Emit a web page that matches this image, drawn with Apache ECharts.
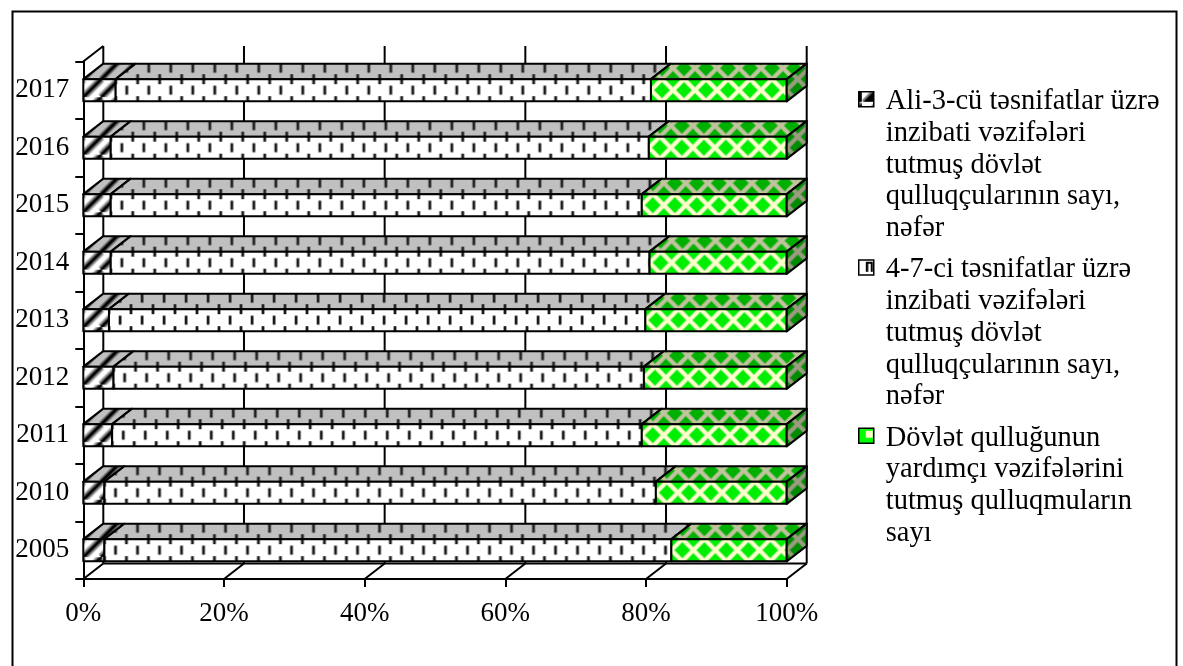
<!DOCTYPE html>
<html><head><meta charset="utf-8">
<script src="https://cdn.jsdelivr.net/npm/echarts@6/dist/echarts.min.js"></script>
<style>html,body{margin:0;padding:0;background:#fff}#c{width:1183px;height:666px}</style>
</head><body><div id="c"></div>
<script>
// ---- data ----
const categories = ['2005','2010','2011','2012','2013','2014','2015','2016','2017'];
const seriesNames = [
  'Ali-3-cü təsnifatlar üzrə\ninzibati vəzifələri\ntutmuş dövlət\nqulluqçularının sayı,\nnəfər',
  '4-7-ci təsnifatlar üzrə\ninzibati vəzifələri\ntutmuş dövlət\nqulluqçularının sayı,\nnəfər',
  'Dövlət qulluğunun\nyardımçı vəzifələrini\ntutmuş qulluqmuların\nsayı'
];
const topClassShare = [3.0, 3.0, 4.1, 4.3, 3.65, 3.9, 3.9, 3.9, 4.6];
const midClassShare = [80.6, 78.4, 75.3, 75.4, 76.25, 76.6, 75.5, 76.5, 76.1];
const auxStaffShare = [16.4, 18.6, 20.6, 20.3, 20.1, 19.5, 20.6, 19.6, 19.3];
const xTicks = [0, 20, 40, 60, 80, 100];

// ---- style constants ----
const FONT = 'Liberation Serif';
const FS_AXIS = 27, FS_LEG = 28.5;
const DX = 20, DY = -15.5;       // 3D depth offset
const BAR_RATIO = 0.386;

function tile(w, h, draw) {
  const c = document.createElement('canvas');
  c.width = w; c.height = h;
  const g = c.getContext('2d');
  draw(g, w, h);
  return c;
}
function stripes(bg, soft) {
  return tile(18, 18, (g, w, h) => {
    g.fillStyle = bg; g.fillRect(0, 0, w, h);
    const layers = soft ? [['#aaa', 8], ['#555', 5], ['#000', 2.5]] : [['#666', 6], ['#000', 3]];
    layers.forEach(([col, lw]) => {
      g.strokeStyle = col; g.lineWidth = lw;
      for (let k = -w; k <= w; k += w) {
        g.beginPath(); g.moveTo(k, h); g.lineTo(k + w, 0); g.stroke();
      }
    });
  });
}
function dashes(bg, fg) {
  return tile(22, 22, (g, w, h) => {
    g.fillStyle = bg; g.fillRect(0, 0, w, h);
    g.fillStyle = fg;
    g.fillRect(9.7, 6.5, 2.8, 9);
    g.fillRect(-1.4, 0, 2.8, 5); g.fillRect(20.6, 0, 2.8, 5);
    g.fillRect(-1.4, 17, 2.8, 5); g.fillRect(20.6, 17, 2.8, 5);
  });
}
function diamonds(bg, fg, soft) {
  return tile(22, 22, (g, w, h) => {
    g.fillStyle = bg; g.fillRect(0, 0, w, h);
    const d = (cx, cy, r) => { g.beginPath(); g.moveTo(cx, cy - r); g.lineTo(cx + r, cy); g.lineTo(cx, cy + r); g.lineTo(cx - r, cy); g.closePath(); g.fill(); };
    const pts = [[0,0],[22,0],[0,22],[22,22],[11,11]];
    g.fillStyle = soft; pts.forEach(([x, y]) => d(x, y, 8.4));
    g.fillStyle = fg; pts.forEach(([x, y]) => d(x, y, 7.4));
  });
}
const tiles = [
  { front: stripes('#fff', true), top: stripes('#c0c0c0', false) },
  { front: dashes('#fff', '#1a1a1a'), top: dashes('#c0c0c0', '#222') },
  { front: diamonds('#ffffcc', '#00ee00', '#80f080'), top: diamonds('#c3c3a0', '#00b000', '#60b850'), side: diamonds('#9c9c7e', '#008c00', '#4a944a') }
];
const pat = (img, x, y) => ({ image: img, repeat: 'repeat', x: x, y: y });

const shares = [topClassShare, midClassShare, auxStaffShare];
function seriesData(si) {
  return categories.map((c, i) => {
    let start = 0;
    for (let k = 0; k < si; k++) start += shares[k][i];
    return [start, start + shares[si][i], i];
  });
}

function barRender(si) {
  const last = si === shares.length - 1;
  return function (params, api) {
    const s = api.value(0), e = api.value(1), c = api.value(2);
    const p0 = api.coord([s, c]), p1 = api.coord([e, c]);
    const h = api.size([0, 1])[1] * BAR_RATIO;
    const x0 = p0[0], x1 = p1[0], yT = p0[1] - h / 2, yB = p0[1] + h / 2;
    const edge = { stroke: '#000', lineWidth: 2, lineJoin: 'round' };
    const t = tiles[si];
    const children = [
      { type: 'polygon', shape: { points: [[x0, yT], [x1, yT], [x1 + DX, yT + DY], [x0 + DX, yT + DY]] },
        style: Object.assign({ fill: pat(t.top, x0, yT) }, edge) },
      { type: 'rect', shape: { x: x0, y: yT, width: x1 - x0, height: h },
        style: Object.assign({ fill: pat(t.front, x0, yT) }, edge) }
    ];
    if (last) {
      children.push({ type: 'polygon', shape: { points: [[x1, yT], [x1 + DX, yT + DY], [x1 + DX, yB + DY], [x1, yB]] },
        style: Object.assign({ fill: pat(t.side, x1, yT) }, edge) });
    }
    return { type: 'group', children: children };
  };
}

function wallRender(params, api) {
  const cs = params.coordSys;
  const v = api.value(0);
  const x = api.coord([v, 0])[0];
  const top = cs.y, bottom = cs.y + cs.height;
  const ls = { stroke: '#000', lineWidth: 2 };
  const children = [
    { type: 'line', shape: { x1: x + DX, y1: top + DY, x2: x + DX, y2: bottom + DY }, style: ls },
    { type: 'line', shape: { x1: x, y1: bottom, x2: x + DX, y2: bottom + DY }, style: ls }
  ];
  if (params.dataIndex === 0) {
    children.push({ type: 'line', shape: { x1: x, y1: top, x2: x + DX, y2: top + DY }, style: ls });
    children.push({ type: 'line', shape: { x1: cs.x + DX, y1: bottom + DY, x2: cs.x + cs.width + DX, y2: bottom + DY }, style: ls });
  }
  return { type: 'group', children: children };
}

// legend icons
const LEG_LEFT = 858, LEG_TOP = 85, LH = 31.75, ITEM_H = LH * 5, LEG_GAP = 8;
const iconCanvases = [
  tile(15, 15, (g) => { g.fillStyle = '#fff'; g.fillRect(0,0,15,15); g.fillStyle = '#000'; g.beginPath(); g.moveTo(15,1); g.lineTo(15,15); g.lineTo(1,15); g.closePath(); g.fill(); g.strokeStyle='#777'; g.lineWidth=2; g.beginPath(); g.moveTo(1,14); g.lineTo(14,1); g.stroke(); }),
  tile(15, 15, (g) => { g.fillStyle = '#fff'; g.fillRect(0,0,15,15); g.fillStyle = '#000'; g.fillRect(4,5,2.5,10); g.fillRect(4,5,7,2); g.fillRect(9,5,2,10); }),
  tile(15, 15, (g) => { g.fillStyle = '#00ff00'; g.fillRect(0,0,15,15); g.fillStyle = '#ffffcc'; g.fillRect(4,4,7,7); })
];
const iconPath = 'path://M0,6L15,6L15,21L0,21Z M0,0 M15,' + ITEM_H;

const chart = echarts.init(document.getElementById('c'), null, { renderer: 'canvas' });
chart.setOption({
  animation: false,
  backgroundColor: '#fff',
  textStyle: { fontFamily: FONT },
  grid: { left: 83.3, right: 396.3, top: 61.5, bottom: 87, containLabel: false },
  xAxis: {
    type: 'value', min: 0, max: 100, interval: 20,
    axisLine: { show: true, lineStyle: { color: '#000', width: 2 } },
    axisTick: { show: true, length: 8, lineStyle: { color: '#000', width: 2 } },
    splitLine: { show: false },
    axisLabel: { formatter: '{value}%', color: '#000', fontFamily: FONT, fontSize: FS_AXIS, margin: 21 }
  },
  yAxis: {
    type: 'category', data: categories,
    axisLine: { show: true, lineStyle: { color: '#000', width: 2 } },
    axisTick: { show: true, length: 8, lineStyle: { color: '#000', width: 2 } },
    splitLine: { show: false },
    axisLabel: { color: '#000', fontFamily: FONT, fontSize: FS_AXIS, margin: 14 }
  },
  legend: {
    orient: 'vertical', left: LEG_LEFT, top: LEG_TOP, padding: 0,
    itemWidth: 15, itemHeight: ITEM_H, itemGap: LEG_GAP, selectedMode: false,
    textStyle: { fontFamily: FONT, fontSize: FS_LEG, color: '#000', lineHeight: LH, padding: [0, 0, 0, 7] },
    data: seriesNames.map((n, i) => ({
      name: n, icon: iconPath,
      itemStyle: { color: pat(iconCanvases[i], LEG_LEFT, LEG_TOP + 6 + i * (ITEM_H + LEG_GAP)), borderColor: '#000', borderWidth: 1.5 }
    })),
    formatter: (n) => (n.split('\n').length < 5 ? n + '\n ' : n)
  },
  graphic: [{
    type: 'rect', left: 10, top: 9, silent: true, z: -1,
    shape: { width: 1164, height: 700 },
    style: { fill: 'none', stroke: '#000', lineWidth: 2 }
  }],
  series: [
    { type: 'custom', name: 'walls', silent: true, z: 1, renderItem: wallRender,
      data: xTicks.map(v => [v]), encode: { x: 0 } },
  ].concat(seriesNames.map((n, si) => ({
    type: 'custom', name: n, silent: true, z: 2,
    renderItem: barRender(si),
    encode: { x: [0, 1], y: 2 },
    itemStyle: { color: pat(tiles[si].front, 0, 0) },
    data: seriesData(si)
  })))
});
</script></body></html>
